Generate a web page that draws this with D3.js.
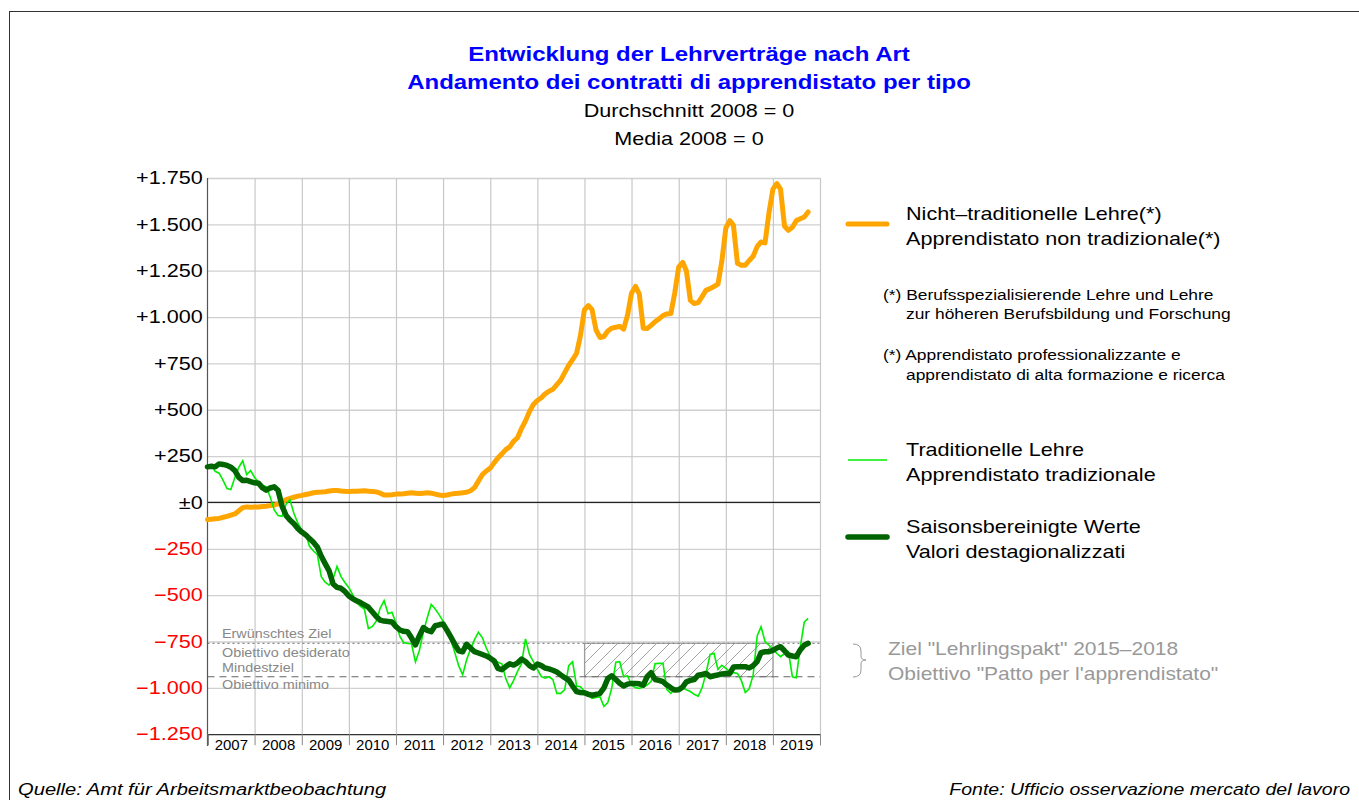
<!DOCTYPE html>
<html>
<head>
<meta charset="utf-8">
<script src="https://cdn.jsdelivr.net/npm/d3@7"></script>
<style>
  body { margin: 0; background: #fff; }
  svg { font-family: "Liberation Sans", Arial, sans-serif; }
</style>
</head>
<body>
<svg id="chart" width="1359" height="800"></svg>
<script>
// monthly series, first value = January 2007
const startYear = 2007
const nonTraditional = [
  -92,-90,-88,-86,-80,-75,-68,-62,-45,-28,-24,-26,
  -25,-24,-22,-20,-17,-14,-8,2,15,22,28,34,
  38,43,47,52,55,56,58,62,64,65,62,60,
  59,60,61,62,63,61,59,57,50,40,40,42,
  45,45,47,50,52,50,48,50,52,50,45,40,
  38,40,45,48,50,52,55,63,80,115,150,170,
  185,215,240,262,285,300,330,350,400,440,490,528,
  550,565,585,600,610,635,660,700,740,770,805,900,
  1040,1062,1040,930,890,895,925,940,945,950,935,1010,
  1130,1165,1125,940,938,955,975,990,1008,1017,1019,1130,
  1270,1295,1250,1090,1073,1078,1110,1145,1153,1165,1178,1300,
  1480,1520,1495,1290,1279,1280,1305,1328,1380,1405,1400,1560,
  1690,1720,1690,1490,1468,1484,1520,1530,1540,1567
]
const traditional = [
  192,200,168,158,120,75,70,135,190,225,150,172,
  135,110,93,84,30,-40,-70,-75,-10,15,-60,-110,
  -149,-170,-235,-262,-280,-400,-430,-446,-410,-345,-400,-432,
  -460,-500,-540,-560,-575,-680,-670,-640,-570,-530,-600,-592,
  -650,-724,-755,-760,-762,-860,-800,-700,-620,-550,-575,-605,
  -640,-690,-740,-810,-880,-930,-850,-790,-740,-700,-730,-785,
  -830,-850,-862,-870,-950,-1000,-960,-910,-870,-736,-820,-859,
  -900,-940,-948,-940,-955,-1030,-1030,-1010,-880,-859,-990,-994,
  -1020,-1039,-1057,-1052,-1048,-1100,-1080,-1000,-862,-859,-940,-935,
  -985,-1000,-1003,-995,-985,-965,-870,-868,-868,-1010,-1030,-1005,
  -1000,-998,-1010,-1020,-1035,-1045,-1000,-920,-820,-814,-900,-878,
  -895,-913,-918,-922,-960,-1025,-1005,-930,-720,-670,-750,-770,
  -790,-815,-832,-815,-805,-940,-945,-780,-645,-625
]
const seasonAdjusted = [
  192,195,192,208,205,200,190,172,135,118,120,112,
  106,104,80,66,78,84,66,-20,-70,-95,-115,-140,
  -160,-175,-195,-215,-240,-290,-330,-370,-440,-458,-463,-480,
  -505,-520,-530,-540,-552,-565,-590,-615,-635,-640,-642,-645,
  -670,-688,-695,-697,-730,-768,-720,-675,-690,-697,-665,-660,
  -656,-690,-725,-765,-800,-805,-765,-785,-805,-812,-820,-828,
  -840,-855,-895,-902,-885,-870,-877,-865,-845,-858,-880,-893,
  -872,-880,-893,-898,-905,-915,-930,-945,-958,-990,-1020,-1025,
  -1026,-1035,-1040,-1035,-1030,-1000,-950,-935,-955,-975,-990,-980,
  -976,-976,-978,-985,-940,-918,-955,-960,-967,-985,-1000,-1012,
  -1010,-995,-968,-960,-955,-932,-928,-922,-940,-935,-930,-925,
  -923,-922,-888,-886,-886,-886,-893,-880,-858,-810,-805,-805,
  -798,-785,-778,-800,-823,-828,-832,-795,-770,-760
]

const years = d3.range(2007, 2020)
const yTicks = [-1250, -1000, -750, -500, -250, 0, 250, 500, 750, 1000, 1250, 1500, 1750]
const targetDesired = -760
const targetMinimum = -940
const pactYears = [2015, 2019]

const svg = d3.select("#chart")
const SX = 1.2  // the reference text is drawn a bit wide

function label(parent, x, y, str, size, opts = {}) {
  return parent.append("text")
    .attr("transform", `translate(${x},${y}) scale(${opts.sx || SX},1)`)
    .attr("text-anchor", opts.anchor || "start")
    .attr("font-size", size)
    .attr("font-weight", opts.weight || "normal")
    .attr("font-style", opts.style || "normal")
    .attr("fill", opts.fill || "#000")
    .text(str)
}

// frame
svg.append("rect")
   .attr("x", 9.5).attr("y", 11.5)
   .attr("width", 1400).attr("height", 900)
   .attr("fill", "none").attr("stroke", "#333")

const x = d3.scaleTime()
            .domain([new Date(2007, 0, 1), new Date(2020, 0, 1)])
            .range([207.5, 820])
const y = d3.scaleLinear()
            .domain([-1250, 1750])
            .range([734.2, 178])

const monthDate = i => new Date(startYear, i, 1)
const yearStarts = d3.range(2007, 2021).map(yr => new Date(yr, 0, 1))

// grid
svg.append("g")
   .attr("transform", "translate(207.5,0)")
   .call(d3.axisLeft(y).tickValues(yTicks).tickSize(-(820 - 207.5)).tickFormat(""))
   .call(g => g.select(".domain").remove())
   .call(g => g.selectAll("line").attr("stroke", "#d0d0d0").attr("stroke-width", 1.3))

svg.append("g")
   .attr("transform", "translate(0,178)")
   .call(d3.axisBottom(x).tickValues(yearStarts.slice(1)).tickSize(734.2 - 178).tickFormat(""))
   .call(g => g.select(".domain").remove())
   .call(g => g.selectAll("line").attr("stroke", "#c8c8c8").attr("stroke-width", 1.2))

// zero line
svg.append("line")
   .attr("x1", 207.5).attr("x2", 820)
   .attr("y1", y(0)).attr("y2", y(0))
   .attr("stroke", "#222").attr("stroke-width", 1.2)

// pact target box
const defs = svg.append("defs")
defs.append("pattern")
    .attr("id", "hatch")
    .attr("patternUnits", "userSpaceOnUse")
    .attr("width", 13).attr("height", 13)
    .append("path")
    .attr("d", "M-3,3 l6,-6 M0,13 l13,-13 M10,16 l6,-6")
    .attr("stroke", "#8a8a8a").attr("stroke-width", 0.8)

svg.append("rect")
   .attr("x", x(new Date(pactYears[0], 0, 1)))
   .attr("y", y(targetDesired))
   .attr("width", x(new Date(pactYears[1], 0, 1)) - x(new Date(pactYears[0], 0, 1)))
   .attr("height", y(targetMinimum) - y(targetDesired))
   .attr("fill", "url(#hatch)")
   .attr("stroke", "#999").attr("stroke-width", 1)

svg.append("line")
   .attr("x1", 207.5).attr("x2", 820)
   .attr("y1", y(targetDesired)).attr("y2", y(targetDesired))
   .attr("stroke", "#888").attr("stroke-width", 1.2)
   .attr("stroke-dasharray", "2,3")

svg.append("line")
   .attr("x1", 207.5).attr("x2", 820)
   .attr("y1", y(targetMinimum)).attr("y2", y(targetMinimum))
   .attr("stroke", "#666").attr("stroke-width", 1.2)
   .attr("stroke-dasharray", "7,5")

const targetLabels = svg.append("g")
label(targetLabels, 222, y(targetDesired) - 5, "Erwünschtes Ziel", 12.5, { fill: "#888", sx: 1.15 })
label(targetLabels, 222, y(targetDesired) + 14, "Obiettivo desiderato", 12.5, { fill: "#888", sx: 1.15 })
label(targetLabels, 222, y(targetMinimum) - 5, "Mindestziel", 12.5, { fill: "#888", sx: 1.15 })
label(targetLabels, 222, y(targetMinimum) + 12, "Obiettivo minimo", 12.5, { fill: "#888", sx: 1.15 })

// axes
svg.append("line")
   .attr("x1", 207.5).attr("x2", 207.5)
   .attr("y1", 178).attr("y2", 746)
   .attr("stroke", "#555").attr("stroke-width", 1.2)

svg.append("g")
   .attr("transform", "translate(0,734.2)")
   .call(d3.axisBottom(x).tickValues(yearStarts).tickSize(11).tickFormat(""))
   .call(g => g.select(".domain").attr("stroke", "#111"))
   .call(g => g.selectAll(".tick line").attr("stroke", "#888"))

svg.append("g")
   .attr("transform", "translate(0,734.2)")
   .call(d3.axisBottom(x).tickValues(years.map(yr => new Date(yr, 6, 1))).tickSize(0).tickPadding(6)
          .tickFormat(d3.timeFormat("%Y")))
   .call(g => g.select(".domain").remove())
   .call(g => g.selectAll("text")
               .attr("font-size", 14)
               .attr("font-family", "Liberation Sans, Arial, sans-serif")
               .attr("fill", "#000")
               .attr("transform", "scale(1.07,1)"))

const thousands = d3.format(",")
const yFormat = v => {
  const s = thousands(Math.abs(v)).replace(/,/g, ".")
  if (v > 0) return "+" + s
  if (v < 0) return "\u2212" + s
  return "\u00b1" + s
}

svg.append("g")
   .attr("transform", "translate(207.5,0)")
   .call(d3.axisLeft(y).tickValues(yTicks).tickSize(0).tickPadding(4).tickFormat(yFormat))
   .call(g => g.select(".domain").remove())
   .call(g => g.selectAll("text")
               .attr("font-size", 18)
               .attr("font-family", "Liberation Sans, Arial, sans-serif")
               .attr("fill", d => d < 0 ? "#ff0000" : "#000")
               .attr("transform", `scale(${SX},1)`))

// series
const line = d3.line()
               .x((d, i) => x(monthDate(i)))
               .y(d => y(d))

svg.append("path")
   .datum(nonTraditional)
   .attr("d", line)
   .attr("fill", "none")
   .attr("stroke", "#ffa500")
   .attr("stroke-width", 5)
   .attr("stroke-linejoin", "round")
   .attr("stroke-linecap", "round")

svg.append("path")
   .datum(traditional)
   .attr("d", line)
   .attr("fill", "none")
   .attr("stroke", "#00ee00")
   .attr("stroke-width", 1.6)

svg.append("path")
   .datum(seasonAdjusted)
   .attr("d", line)
   .attr("fill", "none")
   .attr("stroke", "#006400")
   .attr("stroke-width", 5.5)
   .attr("stroke-linejoin", "round")
   .attr("stroke-linecap", "round")

// titles
label(svg, 689, 61, "Entwicklung der Lehrverträge nach Art", 20, { anchor: "middle", weight: "bold", fill: "#0000ff" })
label(svg, 689, 89, "Andamento dei contratti di apprendistato per tipo", 20, { anchor: "middle", weight: "bold", fill: "#0000ff" })
label(svg, 689, 117, "Durchschnitt 2008 = 0", 18, { anchor: "middle" })
label(svg, 689, 144.5, "Media 2008 = 0", 18, { anchor: "middle" })

// legend
const legend = svg.append("g")
const legendRow = (yy, color, width, lines) => {
  legend.append("line")
        .attr("x1", 848).attr("x2", 887)
        .attr("y1", yy).attr("y2", yy)
        .attr("stroke", color).attr("stroke-width", width)
        .attr("stroke-linecap", width > 2 ? "round" : "butt")
  lines.forEach((t, i) => label(legend, 906, yy - 4 + i * 24.5, t, 18))
}
legendRow(224, "#ffa500", 5, ["Nicht\u2013traditionelle Lehre(*)", "Apprendistato non tradizionale(*)"])
label(legend, 883, 300, "(*) Berufsspezialisierende Lehre und Lehre", 14.5)
label(legend, 906, 318.5, "zur höheren Berufsbildung und Forschung", 14.5)
label(legend, 883, 360, "(*) Apprendistato professionalizzante e", 14.5)
label(legend, 906, 380, "apprendistato di alta formazione e ricerca", 14.5)
legendRow(460, "#00ee00", 1.6, ["Traditionelle Lehre", "Apprendistato tradizionale"])
legendRow(537, "#006400", 5.5, ["Saisonsbereinigte Werte", "Valori destagionalizzati"])

legend.append("path")
      .attr("d", "M853,644 Q861,644 861,651 L861,656 Q861,660 866,660 Q861,660 861,664 L861,670 Q861,677 853,677")
      .attr("fill", "none").attr("stroke", "#999").attr("stroke-width", 1)
label(legend, 888, 655, "Ziel \"Lehrlingspakt\" 2015\u20132018", 17.5, { fill: "#999" })
label(legend, 888, 680, "Obiettivo \"Patto per l'apprendistato\"", 17.5, { fill: "#999" })

// sources
label(svg, 18, 795, "Quelle: Amt für Arbeitsmarktbeobachtung", 16.8, { style: "italic" })
label(svg, 1350, 795, "Fonte: Ufficio osservazione mercato del lavoro", 16.8, { style: "italic", anchor: "end", sx: 1.16 })
</script>
</body>
</html>
